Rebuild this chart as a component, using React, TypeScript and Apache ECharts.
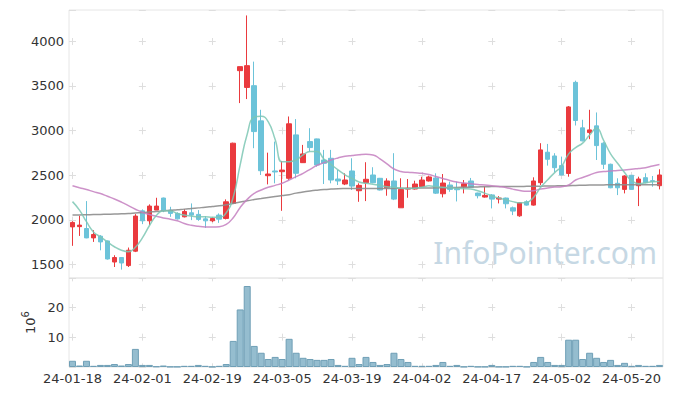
import React, { useEffect, useRef } from 'react';
import * as echarts from 'echarts';

const dates = [
  '24-01-18','24-01-19','24-01-22','24-01-23','24-01-24','24-01-25','24-01-26','24-01-29','24-01-30','24-01-31',
  '24-02-01','24-02-02','24-02-05','24-02-06','24-02-07','24-02-08','24-02-13','24-02-14','24-02-15','24-02-16',
  '24-02-19','24-02-20','24-02-21','24-02-22','24-02-23','24-02-26','24-02-27','24-02-28','24-02-29','24-03-04',
  '24-03-05','24-03-06','24-03-07','24-03-08','24-03-11','24-03-12','24-03-13','24-03-14','24-03-15','24-03-18',
  '24-03-19','24-03-20','24-03-21','24-03-22','24-03-25','24-03-26','24-03-27','24-03-28','24-03-29','24-04-01',
  '24-04-02','24-04-03','24-04-04','24-04-05','24-04-08','24-04-09','24-04-11','24-04-12','24-04-15','24-04-16',
  '24-04-17','24-04-18','24-04-19','24-04-22','24-04-23','24-04-24','24-04-25','24-04-26','24-04-29','24-04-30',
  '24-05-02','24-05-03','24-05-07','24-05-08','24-05-09','24-05-10','24-05-13','24-05-14','24-05-16','24-05-17',
  '24-05-20','24-05-21','24-05-22','24-05-23','24-05-24',
];

const opens = [
  1922,1925,1904,1799,1818,1765,1529,1579,1489,1650,
  2102,1990,2110,2245,2110,2073,2035,2080,2062,2012,
  1990,2054,2017,2185,3671,3483,3503,3109,2495,2548,
  2540,2466,2952,2641,2877,2907,2671,2690,2458,2402,
  2548,2327,2417,2503,2466,2360,2436,2136,2345,2346,
  2372,2436,2470,2293,2391,2350,2372,2436,2301,2256,
  2280,2233,2245,2136,2046,2203,2166,2417,2758,2716,
  2608,2520,3540,3031,2978,3053,2859,2623,2410,2342,
  2500,2383,2473,2440,2383,
];
const closes = [
  1972,1942,1799,1837,1754,1563,1579,1518,1661,2043,
  1990,2155,2155,2102,2073,2012,2095,2054,2006,1990,
  2017,2009,2203,2859,3716,3727,2989,2551,2514,2537,
  2558,3076,2522,2739,2810,2615,2634,2447,2436,2447,
  2379,2387,2455,2417,2335,2436,2233,2342,2355,2402,
  2447,2481,2300,2413,2342,2338,2405,2365,2271,2275,
  2233,2245,2181,2099,2192,2166,2436,2784,2679,2585,
  2503,3265,3113,2885,3008,2832,2623,2360,2360,2492,
  2342,2458,2417,2430,2503,
];
const lows = [
  1710,1821,1795,1754,1660,1556,1473,1444,1473,1640,
  1953,1942,2110,2087,2035,2005,2028,1998,1990,1911,
  1975,1967,2006,2185,3308,3353,2803,2503,2398,2410,
  2102,2447,2466,2638,2765,2596,2402,2410,2391,2390,
  2335,2203,2211,2410,2330,2271,2222,2136,2248,2340,
  2365,2430,2290,2252,2315,2207,2297,2360,2241,2250,
  2129,2185,2129,2054,2035,2160,2160,2391,2608,2533,
  2500,2484,3057,2880,2904,2671,2570,2355,2278,2297,
  2340,2155,2410,2372,2342,
];
const highs = [
  1985,2046,2211,1885,1830,1770,1605,1582,1691,2065,
  2118,2174,2248,2250,2147,2085,2121,2185,2110,2043,
  2030,2073,2230,2865,3716,4289,3772,3233,2753,2877,
  2660,3158,3129,2840,3027,2910,2784,2784,2559,2522,
  2690,2410,2646,2590,2470,2466,2747,2466,2458,2439,
  2484,2495,2522,2514,2428,2428,2447,2470,2305,2372,
  2290,2267,2250,2150,2200,2220,2477,2859,2851,2747,
  2709,3275,3559,3121,3233,3203,2870,2630,2466,2500,
  2500,2484,2522,2492,2567,
];

const ma5 = [
  2205,2110,1980,1866,1810,1754,1700,1661,1645,1695,
  1800,1935,2050,2102,2100,2073,2054,2043,2035,2035,
  2030,2030,2080,2255,2620,2960,3150,3160,3100,2900,
  2650,2652,2671,2728,2765,2765,2680,2620,2560,2505,
  2465,2425,2410,2400,2387,2372,2365,2354,2350,2354,
  2365,2383,2372,2365,2362,2354,2350,2345,2327,2300,
  2270,2245,2225,2205,2192,2198,2255,2365,2450,2530,
  2600,2740,2810,2860,2950,3025,2890,2740,2635,2530,
  2440,2405,2415,2428,2430,
];
const ma20 = [
  2383,2361,2340,2317,2295,2265,2235,2200,2160,2120,
  2085,2060,2040,2022,2008,1990,1960,1940,1928,1922,
  1922,1925,1950,2025,2140,2230,2297,2335,2365,2387,
  2410,2447,2484,2522,2567,2612,2641,2671,2694,2713,
  2722,2730,2735,2728,2683,2627,2570,2542,2533,2528,
  2522,2509,2486,2464,2442,2425,2414,2405,2397,2391,
  2383,2374,2363,2345,2330,2320,2327,2346,2357,2368,
  2372,2391,2447,2475,2503,2531,2542,2548,2554,2559,
  2567,2576,2585,2604,2621,
];
const ma60 = [
  2054,2056,2058,2060,2062,2064,2066,2069,2073,2078,
  2083,2089,2095,2102,2108,2115,2121,2128,2135,2142,
  2150,2158,2170,2185,2200,2215,2228,2240,2252,2263,
  2273,2283,2300,2312,2324,2333,2340,2345,2349,2351,
  2352,2352,2352,2352,2352,2353,2353,2354,2355,2356,
  2357,2358,2359,2360,2362,2364,2366,2368,2370,2372,
  2373,2374,2374,2375,2375,2376,2377,2378,2380,2381,
  2382,2384,2386,2388,2390,2391,2392,2393,2393,2394,
  2394,2394,2394,2394,2394,
];

// trading volume, in millions of shares
const volumes = [
  2.1,0.5,2.1,0.4,0.7,0.7,1.0,0.5,1.0,6.1,
  0.7,0.7,0.2,0.5,0.1,0.1,0.4,0.4,0.7,0.4,
  0.1,0.4,1.0,8.8,19.4,27.3,7.1,4.8,2.7,3.4,
  2.7,9.5,4.8,3.1,2.7,2.4,2.4,2.7,0.7,0.4,
  3.1,1.0,3.4,1.7,0.7,1.0,4.8,2.7,1.7,0.4,
  0.4,0.4,0.7,1.7,0.4,0.7,0.1,0.4,0.1,0.1,
  0.7,0.1,0.1,0.4,0.4,0.1,1.7,3.4,1.7,0.7,
  0.7,9.2,9.2,2.7,4.8,3.1,1.7,2.4,0.7,1.4,
  0.4,0.7,0.4,0.4,0.7,
];

const FONT = 'DejaVu Sans';
const TEXT = '#333333';
const GRID_LINE = '#dedede';

export default function App() {
  const ref = useRef<HTMLDivElement>(null);

  useEffect(() => {
    document.body.style.margin = '0';
    if (!ref.current) return;
    const chart = echarts.init(ref.current, null, { renderer: 'svg' });
    const candles = dates.map((_, i) => [opens[i], closes[i], lows[i], highs[i]]);
    const plain = (v: number) => String(v);

    chart.setOption({
      animation: false,
      textStyle: { fontFamily: FONT },
      graphic: [
        {
          type: 'text',
          right: 16,
          top: 237,
          z: 0,
          silent: true,
          style: {
            text: 'InfoPointer.com',
            font: '30px "Noto Sans"',
            fill: '#c6d8e4',
          },
        },
      ],
      grid: [
        { left: 69, right: 10, top: 10, height: 268, show: true, borderColor: '#e6e6e6', borderWidth: 1 },
        { left: 69, right: 10, top: 278, height: 89, show: true, borderColor: '#e6e6e6', borderWidth: 1 },
      ],
      xAxis: [
        {
          type: 'category',
          gridIndex: 0,
          data: dates,
          axisLine: { show: false },
          axisTick: { show: false },
          axisLabel: { show: false },
          splitLine: {
            show: true,
            interval: 9,
            alignWithLabel: true,
            lineStyle: { color: GRID_LINE, width: 1, type: [7, 37.67], dashOffset: -27.77 },
          },
        },
        {
          type: 'category',
          gridIndex: 1,
          data: dates,
          axisLine: { show: false },
          axisTick: { show: false },
          axisLabel: { interval: 9, color: TEXT, fontSize: 13, fontFamily: FONT, margin: 5 },
          splitLine: {
            show: true,
            interval: 9,
            alignWithLabel: true,
            lineStyle: { color: GRID_LINE, width: 1, type: [7, 22.67], dashOffset: -26.17 },
          },
        },
      ],
      yAxis: [
        {
          type: 'value',
          gridIndex: 0,
          min: 1350,
          max: 4350,
          axisLine: { show: false },
          axisTick: { show: false },
          axisLabel: {
            color: TEXT, fontSize: 13, fontFamily: FONT, margin: 5,
            showMinLabel: false, showMaxLabel: false, formatter: plain,
          },
          splitLine: { show: true, lineStyle: { color: GRID_LINE, width: 1, type: [7, 62.88], dashOffset: 0 } },
        },
        {
          type: 'value',
          gridIndex: 1,
          min: 0,
          max: 30,
          interval: 10,
          name: '{b|10}{s|6}',
          nameLocation: 'middle',
          nameRotate: 90,
          nameGap: 27,
          nameTextStyle: {
            color: TEXT,
            fontFamily: FONT,
            rich: {
              b: { fontSize: 13, color: TEXT, fontFamily: FONT, verticalAlign: 'bottom' },
              s: { fontSize: 10, color: TEXT, fontFamily: FONT, verticalAlign: 'top', padding: [0, 0, 6, 0] },
            },
          },
          axisLine: { show: false },
          axisTick: { show: false },
          axisLabel: {
            color: TEXT, fontSize: 13, fontFamily: FONT, margin: 5,
            showMinLabel: false, showMaxLabel: false, formatter: plain,
          },
          splitLine: { show: true, lineStyle: { color: GRID_LINE, width: 1, type: [7, 62.88], dashOffset: 0 } },
        },
      ],
      series: [
        {
          type: 'candlestick',
          xAxisIndex: 0,
          yAxisIndex: 0,
          data: candles,
          barWidth: 5,
          itemStyle: {
            color: '#ea3a3e',
            color0: '#6cc3d9',
            borderColor: '#ea3a3e',
            borderColor0: '#6cc3d9',
            borderWidth: 1,
          },
        },
        {
          type: 'line',
          xAxisIndex: 0,
          yAxisIndex: 0,
          data: ma60,
          showSymbol: false,
          smooth: true,
          lineStyle: { color: '#8d8d8d', width: 1.5, opacity: 0.9 },
        },
        {
          type: 'line',
          xAxisIndex: 0,
          yAxisIndex: 0,
          data: ma20,
          showSymbol: false,
          smooth: true,
          lineStyle: { color: '#c47fc0', width: 1.5, opacity: 0.85 },
        },
        {
          type: 'line',
          xAxisIndex: 0,
          yAxisIndex: 0,
          data: ma5,
          showSymbol: false,
          smooth: true,
          lineStyle: { color: '#7cc7b4', width: 1.5, opacity: 0.85 },
        },
        {
          type: 'bar',
          xAxisIndex: 1,
          yAxisIndex: 1,
          data: volumes,
          barCategoryGap: '0%',
          itemStyle: { color: '#95bdcf', borderColor: '#6f9fb6', borderWidth: 1 },
        },
      ],
    });

    return () => chart.dispose();
  }, []);

  return <div ref={ref} style={{ width: 673, height: 396 }} />;
}
